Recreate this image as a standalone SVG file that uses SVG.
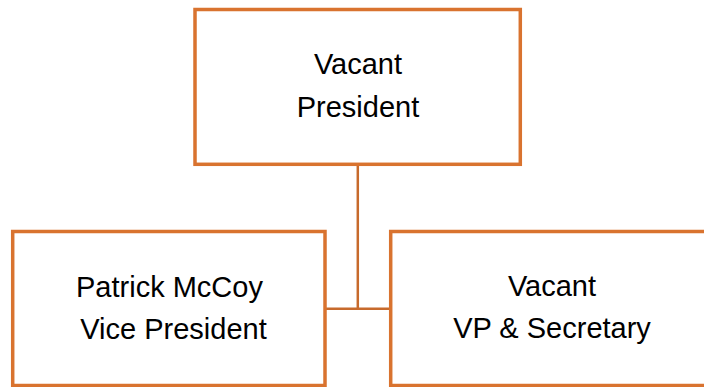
<svg xmlns="http://www.w3.org/2000/svg" width="704" height="387" viewBox="0 0 704 387">
<style>
.box{fill:#ffffff;stroke:#D9732F;stroke-width:3.5}
.conn{fill:none;stroke:#C76A2C;stroke-width:2.5}
.t{font-family:"Liberation Sans",Arial,sans-serif;font-size:29px;fill:#000000;text-anchor:middle}
</style>
<rect width="704" height="387" fill="#ffffff"/>
<g id="connectors">
<path class="conn" d="M357.8,164.3 V308.7"/>
<path class="conn" d="M325,308.7 H390.7"/>
</g>
<g id="president">
<rect class="box" x="195" y="9.5" width="325.3" height="154.8"/>
<text class="t" x="358" y="74">Vacant</text>
<text class="t" x="358" y="117">President</text>
</g>
<g id="vice-president">
<rect class="box" x="12.7" y="231.5" width="312.3" height="154"/>
<text class="t" x="169.5" y="296.7">Patrick McCoy</text>
<text class="t" x="173.5" y="339">Vice President</text>
</g>
<g id="vp-secretary">
<rect class="box" x="390.7" y="231.5" width="322" height="154"/>
<text class="t" x="552" y="296">Vacant</text>
<text class="t" x="552" y="338.3">VP &amp; Secretary</text>
</g>
</svg>
